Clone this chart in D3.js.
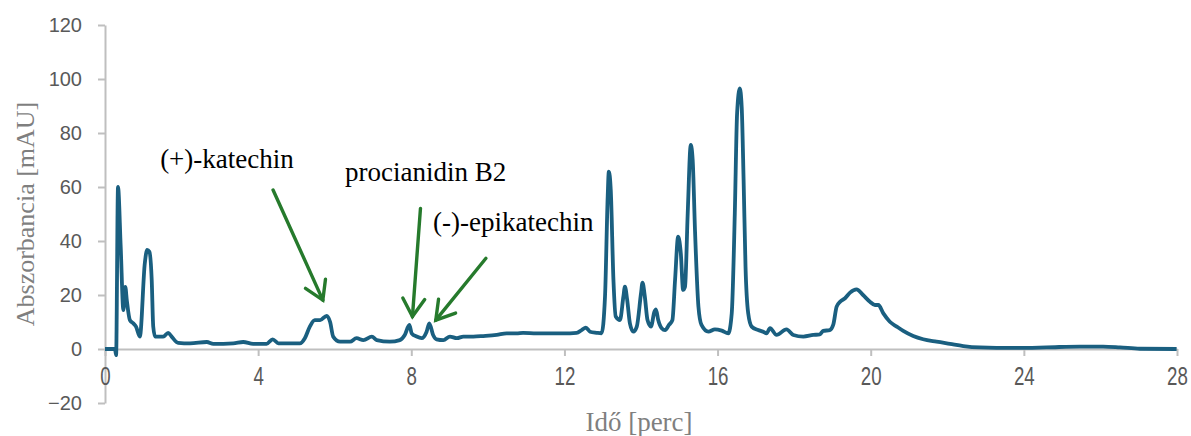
<!DOCTYPE html>
<html>
<head>
<meta charset="utf-8">
<script src="https://cdn.jsdelivr.net/npm/d3@7"></script>
<style>
  body { margin: 0; background: #fff; }
</style>
</head>
<body>
<div id="chart"></div>
<script>
// retention time [perc] and absorbance [mAU]
var times = [0, 0.26, 0.29, 0.34, 0.41, 0.48, 0.53, 0.57, 0.65, 0.74, 0.81, 0.91, 1.04, 1.10, 1.16, 1.22, 1.26, 1.31,
  1.52, 1.65, 1.74, 1.91, 2.22, 2.66, 2.83, 3.35, 3.61, 3.87, 4.22, 4.38, 4.53, 5.09, 5.22, 5.35, 5.48, 5.62, 5.79, 5.88,
  5.96, 6.14, 6.40, 6.57, 6.75, 6.97, 7.10, 7.44, 7.70, 7.83, 7.95, 8.01, 8.14, 8.27, 8.40, 8.47, 8.57, 8.66, 8.84, 9.01,
  9.19, 9.36, 9.62, 9.88, 10.23, 10.49, 10.75, 10.92, 11.27, 11.62, 11.97, 12.32, 12.45, 12.56, 12.67, 12.84, 12.97,
  13.06, 13.13, 13.16, 13.21, 13.28, 13.34, 13.45, 13.54, 13.58, 13.64, 13.71, 13.80, 13.89, 14.00, 14.04, 14.10, 14.17,
  14.26, 14.35, 14.39, 14.45, 14.54, 14.63, 14.73, 14.82, 14.89, 14.97, 15.04, 15.10, 15.15, 15.22, 15.30, 15.35, 15.41,
  15.50, 15.58, 15.76, 15.93, 16.11, 16.28, 16.37, 16.45, 16.51, 16.58, 16.63, 16.68, 16.73, 16.80, 16.89, 17.06, 17.19,
  17.28, 17.37, 17.54, 17.80, 17.98, 18.24, 18.50, 18.67, 18.76, 18.93, 19.02, 19.11, 19.20, 19.33, 19.46, 19.63, 19.80,
  19.98, 20.11, 20.20, 20.33, 20.50, 20.68, 20.85, 21.11, 21.37, 21.72, 22.07, 22.42, 22.85, 23.72, 24.59, 25.46, 26.07,
  26.51, 27.03, 27.99];
var absorb = [0, 0, -2.3, 60, 37.9, 14.4, 23.0, 18.0, 10.7, 9.5, 8.3, 4.6, 31.8, 36.7, 36.0, 25.6, 8.3, 4.6,
  4.6, 6.0, 4.6, 2.3, 2.1, 2.6, 1.9, 2.1, 2.6, 1.9, 1.9, 3.6, 2.1, 2.1, 4.0, 8.3, 10.7, 10.7, 12.3, 10.0,
  4.6, 2.7, 2.7, 4.0, 3.3, 4.6, 3.3, 2.7, 3.3, 5.2, 8.9, 5.8, 4.6, 4.0, 6.4, 9.5, 5.2, 3.6, 3.3, 4.6,
  4.0, 4.6, 4.6, 4.8, 5.2, 5.8, 5.8, 6.0, 5.8, 5.8, 5.8, 6.0, 7.0, 7.9, 6.4, 6.0, 5.8,
  19.4, 56.4, 65.7, 58.9, 25.6, 12.0, 10.7, 19.4, 23.1, 18.1, 9.5, 6.4, 8.3, 20.6, 24.6, 19.4, 10.7,
  8.3, 13.8, 14.7, 10.7, 7.7, 7.0, 8.9, 10.7, 25.6, 41.6, 35.4, 21.9, 23.1, 50.2, 75.6, 70.0, 44.1,
  15.7, 8.9, 6.4, 7.3, 6.8, 5.8, 13.2, 50.2, 87.3, 96.5, 89.7, 62.6, 30.5, 13.2, 8.3, 7.0, 6.4,
  5.8, 7.7, 5.2, 7.3, 5.2, 4.6, 5.2, 5.4, 6.7, 7.0, 8.9, 15.7, 17.5, 18.8, 20.9, 22.1, 20.0,
  17.5, 16.3, 16.3, 13.2, 10.1, 8.3, 6.7, 4.8, 3.6, 2.7, 1.9, 1.1, 0.6, 0.4, 0.6, 0.9, 0.9,
  0.6, 0.1, 0];

var xTicks = [0, 4, 8, 12, 16, 20, 24, 28];
var yTicks = [-20, 0, 20, 40, 60, 80, 100, 120];

// compound labels and arrows (data coordinates)
var labelNames = ["(+)-katechin", "procianidin B2", "(-)-epikatechin"];
var labelPos = [[1.44, 67.0], [6.27, 62.2], [8.57, 43.7]];
var arrowFrom = [[4.39, 58.9], [8.24, 52.1], [9.95, 33.6]];
var arrowTo = [[5.69, 18.1], [8.03, 12.0], [8.64, 10.7]];

var width = 1191, height = 436;

var svg = d3.select("#chart")
    .append("svg")
    .attr("width", width)
    .attr("height", height);

var x = d3.scaleLinear().domain([0, 28]).range([105, 1177]);
var y = d3.scaleLinear().domain([-20, 120]).range([403, 25]);

// Y axis
var yAxis = svg.append("g")
    .attr("transform", "translate(" + x(0) + ",0)")
    .call(d3.axisLeft(y).tickValues(yTicks).tickSize(7).tickSizeOuter(0).tickPadding(16));
yAxis.select(".domain").attr("stroke", "#bfbfbf").attr("stroke-width", 2);
yAxis.selectAll(".tick line").attr("stroke", "#bfbfbf").attr("stroke-width", 2);
yAxis.selectAll("text")
    .attr("fill", "#595959")
    .style("font-family", "'Liberation Sans', Arial, sans-serif")
    .style("font-size", "20px");

// X axis sits on zero, labels are drawn narrow like in the original
var xAxis = svg.append("g")
    .attr("transform", "translate(0," + y(0) + ")")
    .call(d3.axisBottom(x).tickValues(xTicks).tickSize(7).tickSizeOuter(0));
xAxis.select(".domain").attr("stroke", "#bfbfbf").attr("stroke-width", 2);
xAxis.selectAll(".tick line").attr("stroke", "#bfbfbf").attr("stroke-width", 2);
xAxis.selectAll("text")
    .attr("y", 27)
    .attr("dy", "0.35em")
    .attr("transform", "scale(0.72,1)")
    .attr("fill", "#595959")
    .style("font-family", "'Liberation Sans', Arial, sans-serif")
    .style("font-size", "26px");

// axis titles
svg.append("text")
    .attr("transform", "translate(34," + y(50) + ")rotate(-90)")
    .attr("text-anchor", "middle")
    .attr("fill", "#7f7f7f")
    .style("font-family", "'Liberation Serif', 'Times New Roman', serif")
    .style("font-size", "26px")
    .text("Abszorbancia [mAU]");

svg.append("text")
    .attr("x", x(14) - 2)
    .attr("y", 431)
    .attr("text-anchor", "middle")
    .attr("fill", "#7f7f7f")
    .style("font-family", "'Liberation Serif', 'Times New Roman', serif")
    .style("font-size", "27px")
    .text("Idő [perc]");

// chromatogram
var pts = times.map(function(t, i) { return [t, absorb[i]]; });
var line = d3.line()
    .x(function(d) { return x(d[0]); })
    .y(function(d) { return y(d[1]); })
    .curve(d3.curveMonotoneX);

svg.append("path")
    .datum(pts)
    .attr("fill", "none")
    .attr("stroke", "#1a5f80")
    .attr("stroke-width", 3.8)
    .attr("stroke-linejoin", "round")
    .attr("d", line);

// annotations
svg.selectAll(".lbl")
    .data(labelNames)
    .enter()
    .append("text")
    .attr("class", "lbl")
    .attr("x", function(d, i) { return x(labelPos[i][0]); })
    .attr("y", function(d, i) { return y(labelPos[i][1]); })
    .attr("fill", "#000")
    .style("font-family", "'Liberation Serif', 'Times New Roman', serif")
    .style("font-size", "27px")
    .text(function(d) { return d; });

var green = "#267a2c";
arrowFrom.forEach(function(a, i) {
    var x0 = x(a[0]), y0 = y(a[1]);
    var x1 = x(arrowTo[i][0]), y1 = y(arrowTo[i][1]);
    var ang = Math.atan2(y1 - y0, x1 - x0);
    var len = 21, spread = 0.55;
    var g = svg.append("g")
        .attr("stroke", green)
        .attr("stroke-width", 3.4)
        .attr("stroke-linecap", "round")
        .attr("fill", "none");
    g.append("line").attr("x1", x0).attr("y1", y0).attr("x2", x1).attr("y2", y1);
    g.append("path")
        .attr("stroke-linejoin", "miter")
        .attr("d", "M" + (x1 - len * Math.cos(ang - spread)) + "," + (y1 - len * Math.sin(ang - spread)) +
            "L" + x1 + "," + y1 +
            "L" + (x1 - len * Math.cos(ang + spread)) + "," + (y1 - len * Math.sin(ang + spread)));
});
</script>
</body>
</html>
